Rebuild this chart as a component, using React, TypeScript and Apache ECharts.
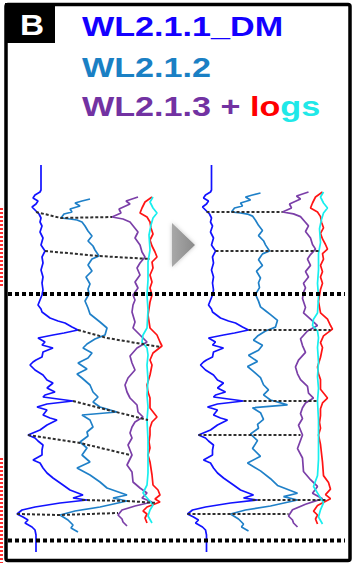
import React, { useEffect, useRef } from "react";
import * as echarts from "echarts";

// Log curves as [value, depth] pairs, depth increasing downwards.
const WL211_DM: [number, number][] = [
  [41,165],[41,190],[40,192],[35,195],[33,198],[38,201],[36,204],[32,207],[36,211],[39,214],[41,218],[40,222],
  [42,226],[40,232],[43,238],[41,245],[45,251],[42,257],[43,263],[41,270],[43,277],[42,283],[43,290],[42,295],
  [40,300],[38,305],[41,309],[42,312],[46,315],[50,318],[58,321],[65,323],[72,327],[78,330],[64,333],[53,335],
  [38,338],[45,342],[42,345],[53,348],[43,352],[42,357],[36,360],[33,362],[30,365],[35,370],[43,375],[47,380],
  [53,383],[47,388],[55,392],[45,395],[43,397],[58,399],[73,401],[47,404],[37,407],[47,410],[43,415],[50,418],
  [57,420],[47,425],[40,430],[28,435],[35,438],[38,441],[43,445],[42,450],[42,455],[33,460],[40,463],[43,468],
  [47,473],[53,478],[63,485],[70,490],[83,495],[73,498],[87,500],[60,503],[35,507],[22,510],[17,514],[23,517],
  [28,520],[25,523],[32,527],[35,530],[36,535],[36,552],
];

const WL212: [number, number][] = [
  [90,199],[82,201],[75,203],[80,206],[70,209],[72,212],[64,214],[61,218],[70,219],[77,220],[82,222],[85,226],
  [88,231],[92,236],[88,241],[93,246],[95,250],[99,256],[92,259],[88,265],[92,271],[86,277],[90,284],[88,289],
  [89,294],[85,301],[88,308],[90,314],[95,318],[100,322],[107,328],[105,335],[95,339],[87,344],[83,348],[92,353],
  [88,358],[78,363],[87,369],[77,374],[82,378],[90,385],[93,392],[98,397],[93,402],[100,407],[117,412],[82,415],
  [90,420],[93,427],[87,432],[88,436],[80,442],[87,448],[82,455],[90,462],[77,468],[90,475],[100,482],[107,488],
  [127,495],[113,498],[127,501],[100,507],[75,511],[60,515],[68,520],[73,525],[71,528],[78,532],
];

const WL213: [number, number][] = [
  [138,197],[126,201],[130,204],[119,209],[121,213],[112,217],[123,219],[130,222],[134,227],[138,232],[135,238],
  [140,245],[142,252],[145,257],[140,263],[137,268],[140,275],[135,282],[138,288],[133,295],[135,300],[133,305],
  [132,312],[135,322],[133,328],[140,335],[147,342],[137,348],[130,356],[132,363],[135,370],[128,378],[125,385],
  [127,392],[130,398],[137,405],[138,412],[143,417],[135,422],[132,427],[130,433],[132,438],[128,445],[132,455],
  [127,465],[132,472],[133,482],[140,488],[147,493],[142,498],[152,502],[135,506],[122,510],[118,515],[122,519],
  [123,522],[127,526],
];

const LOG_RED: [number, number][] = [
  [152,197],[145,202],[142,208],[140,213],[147,217],[150,222],[151,228],[153,234],[150,240],[152,246],[155,252],
  [157,257],[152,262],[153,268],[150,275],[152,282],[150,288],[152,295],[150,302],[148,315],[150,328],[157,335],
  [160,342],[162,346],[153,353],[150,360],[152,365],[150,375],[147,385],[148,392],[150,398],[150,408],[157,417],
  [152,422],[150,428],[150,435],[149,442],[150,448],[148,455],[150,462],[152,475],[153,485],[158,490],[160,495],
  [155,499],[160,502],[147,507],[143,511],[147,514],[145,518],[147,523],
];

const LOG_CYAN: [number, number][] = [
  [153,197],[150,202],[153,208],[157,213],[153,218],[151,225],[149,235],[150,250],[148,262],[148,280],[147,295],
  [148,310],[147,328],[143,335],[142,342],[147,348],[148,355],[147,365],[148,380],[147,395],[148,407],[147,420],
  [148,440],[148,460],[148,473],[147,485],[143,493],[148,499],[153,505],[150,510],[148,516],[152,523],
];

// Correlation ties: one [value, depth] per well for each marker.
const TIE_WL211: [number, number][] = [[36,212],[45,251],[78,330],[73,401],[28,435],[82,500],[17,514]];
const TIE_WL212: [number, number][] = [[61,218],[99,256],[107,338],[100,408],[80,443],[127,501],[60,515]];
const TIE_WL213: [number, number][] = [[112,217],[150,259],[160,347],[148,420],[130,455],[157,503],[118,513]];

// Zone boundaries (reference depth).
const ZONE_DEPTHS = [294, 540.5];

const DEPTH_MIN = 155;
const DEPTH_MAX = 563;
const VALUE_MIN = 10;
const VALUE_MAX = 180;

const COLORS = {
  wl211: "#1212ff",
  wl212: "#1f80c8",
  wl213: "#7b3fa8",
  red: "#ff1414",
  cyan: "#18eeee",
};

// Piecewise-linear depth matching from a well's tie depths onto the reference tie depths.
function matchDepth(d: number, from: number[], to: number[]): number {
  const n = from.length;
  if (d <= from[0]) return d + (to[0] - from[0]);
  if (d >= from[n - 1]) return d + (to[n - 1] - from[n - 1]);
  for (let i = 0; i < n - 1; i++) {
    if (d <= from[i + 1]) {
      const t = (d - from[i]) / (from[i + 1] - from[i]);
      return to[i] + t * (to[i + 1] - to[i]);
    }
  }
  return d;
}

function depthMatched(curve: [number, number][], ties: [number, number][]): [number, number][] {
  const from = ties.map((p) => p[1]);
  const to = TIE_WL211.map((p) => p[1]);
  return curve.map(([v, d]) => [v, matchDepth(d, from, to)] as [number, number]);
}

export default function App() {
  const ref = useRef<HTMLDivElement>(null);

  useEffect(() => {
    if (!ref.current) return;
    const chart = echarts.init(ref.current, undefined, { renderer: "svg" });

    const trace = (name: string, data: [number, number][], color: string, idx: number, z = 2) => ({
      type: "line",
      name,
      data,
      xAxisIndex: idx,
      yAxisIndex: idx,
      symbol: "none",
      showSymbol: false,
      silent: true,
      clip: false,
      z,
      lineStyle: { color, width: 1.7 },
    });

    const tieStyle = { color: "#2e2e2e", width: 2, type: [3, 2] as number[] };

    const series: any[] = [];
    // Panel 0: original depths; panel 1: depth-matched to WL2.1.1_DM.
    [0, 1].forEach((idx) => {
      const w2 = idx === 0 ? WL212 : depthMatched(WL212, TIE_WL212);
      const w3 = idx === 0 ? WL213 : depthMatched(WL213, TIE_WL213);
      const red = idx === 0 ? LOG_RED : depthMatched(LOG_RED, TIE_WL213);
      const cyan = idx === 0 ? LOG_CYAN : depthMatched(LOG_CYAN, TIE_WL213);
      series.push(trace("WL2.1.3", w3, COLORS.wl213, idx));
      series.push(trace("WL2.1.2", w2, COLORS.wl212, idx));
      series.push(trace("WL2.1.1_DM", WL211_DM, COLORS.wl211, idx));
      series.push(trace("log red", red, COLORS.red, idx));
      series.push(trace("log cyan", cyan, COLORS.cyan, idx));
      TIE_WL211.forEach((b, i) => {
        const p2 = TIE_WL212[i];
        const p3 = TIE_WL213[i];
        const data =
          idx === 0
            ? [b, p2, p3]
            : [b, [p2[0], b[1]], [p3[0], b[1]]];
        series.push({
          type: "line",
          data,
          xAxisIndex: idx,
          yAxisIndex: idx,
          symbol: "none",
          silent: true,
          z: 4,
          lineStyle: tieStyle,
        });
      });
    });

    ZONE_DEPTHS.forEach((d) => {
      series.push({
        type: "line",
        data: [[0, d], [1, d]],
        xAxisIndex: 2,
        yAxisIndex: 2,
        symbol: "none",
        silent: true,
        z: 6,
        lineStyle: { color: "#000", width: 4, type: [4, 3] },
      });
    });

    const valueAxis = (gridIndex: number) => ({
      type: "value",
      gridIndex,
      min: gridIndex === 2 ? 0 : VALUE_MIN,
      max: gridIndex === 2 ? 1 : VALUE_MAX,
      show: false,
    });
    const depthAxis = (gridIndex: number) => ({
      type: "value",
      gridIndex,
      min: DEPTH_MIN,
      max: DEPTH_MAX,
      inverse: true,
      show: false,
    });

    const titleFont = 'bold 28px "Liberation Sans", Arial, sans-serif';

    chart.setOption({
      animation: false,
      backgroundColor: "#ffffff",
      grid: [
        { left: 10, top: 155, width: 170, height: 408 },
        { left: 180.5, top: 155, width: 170, height: 408 },
        { left: 8, top: 155, width: 337, height: 408 },
      ],
      xAxis: [valueAxis(0), valueAxis(1), valueAxis(2)],
      yAxis: [depthAxis(0), depthAxis(1), depthAxis(2)],
      series,
      graphic: [
        // outer frame
        {
          type: "rect",
          shape: { x: 6, y: 4.5, width: 344, height: 556, r: 2 },
          style: { fill: "none", stroke: "#000", lineWidth: 3.5 },
          z: 10,
        },
        // panel letter
        {
          type: "rect",
          shape: { x: 5, y: 3, width: 50, height: 40 },
          style: { fill: "#000" },
          z: 11,
        },
        {
          type: "text",
          x: 20,
          y: 25,
          scaleX: 1.15,
          z: 12,
          style: {
            text: "B",
            fill: "#fff",
            font: 'bold 29px "Liberation Sans", Arial, sans-serif',
            textAlign: "left",
            textVerticalAlign: "middle",
          },
        },
        {
          type: "text",
          x: 82,
          y: 27,
          scaleX: 1.22,
          z: 12,
          style: { text: "WL2.1.1_DM", fill: "#1400ff", font: titleFont, textVerticalAlign: "middle" },
        },
        {
          type: "text",
          x: 82,
          y: 68,
          scaleX: 1.22,
          z: 12,
          style: { text: "WL2.1.2", fill: "#1a80c4", font: titleFont, textVerticalAlign: "middle" },
        },
        {
          type: "text",
          x: 82,
          y: 107,
          scaleX: 1.22,
          z: 12,
          style: {
            text: "{p|WL2.1.3 + }{r|lo}{c|gs}",
            font: titleFont,
            textVerticalAlign: "middle",
            rich: {
              p: { fill: "#7232a2", font: titleFont },
              r: { fill: "#ff0000", font: titleFont },
              c: { fill: "#20e8e8", font: titleFont },
            },
          },
        },
        // arrow between panels
        {
          type: "polygon",
          shape: { points: [[172, 223], [195, 245], [172, 267]] },
          style: {
            fill: new echarts.graphic.LinearGradient(0, 0, 1, 0, [
              { offset: 0, color: "#a8a8a8" },
              { offset: 1, color: "#8a8a8a" },
            ]),
            shadowBlur: 4,
            shadowColor: "rgba(0,0,0,0.25)",
          },
          z: 8,
        },
        // interval flags on the left edge
        {
          type: "line",
          shape: { x1: 1.5, y1: 208, x2: 1.5, y2: 288 },
          style: { stroke: "#ff3030", lineWidth: 3, lineDash: [2, 2] },
          z: 9,
        },
        {
          type: "line",
          shape: { x1: 1.5, y1: 458, x2: 1.5, y2: 563 },
          style: { stroke: "#ff3030", lineWidth: 3, lineDash: [2, 2] },
          z: 9,
        },
      ],
    });

    return () => chart.dispose();
  }, []);

  return (
    <div
      ref={ref}
      style={{ position: "fixed", left: 0, top: 0, width: 358, height: 563, background: "#fff" }}
    />
  );
}
